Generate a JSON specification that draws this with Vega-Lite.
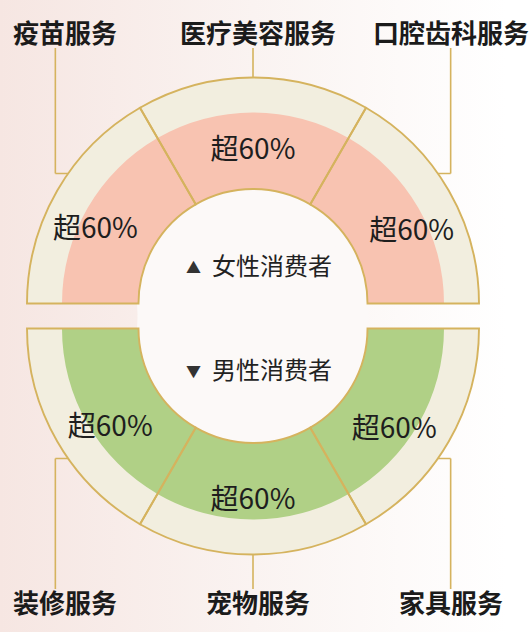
{
  "$schema": "https://vega.github.io/schema/vega-lite/v6.json",
  "width": 506,
  "height": 632,
  "autosize": {"type": "none"},
  "padding": {"left": 0, "top": 0, "right": 26, "bottom": 0},
  "background": "#ffffff",
  "config": {
    "view": {
      "stroke": null,
      "fill": {
        "gradient": "linear", "x1": 0, "y1": 0, "x2": 1, "y2": 0,
        "stops": [
          {"offset": 0, "color": "#f6e6e2"},
          {"offset": 0.5, "color": "#faf3f1"},
          {"offset": 1, "color": "#ffffff"}
        ]
      }
    },
    "font": "Noto Sans CJK SC"
  },
  "datasets": {
    "services": [
      {"seq": 1, "half": "女性", "col": "左", "service": "疫苗服务", "pct": 60, "share": "超60%"},
      {"seq": 2, "half": "女性", "col": "中", "service": "医疗美容服务", "pct": 60, "share": "超60%"},
      {"seq": 3, "half": "女性", "col": "右", "service": "口腔齿科服务", "pct": 60, "share": "超60%"},
      {"seq": 4, "half": "男性", "col": "右", "service": "家具服务", "pct": 60, "share": "超60%"},
      {"seq": 5, "half": "男性", "col": "中", "service": "宠物服务", "pct": 60, "share": "超60%"},
      {"seq": 6, "half": "男性", "col": "左", "service": "装修服务", "pct": 60, "share": "超60%"}
    ],
    "groups": [
      {"half": "女性", "arrow": "▲", "caption": "女性消费者"},
      {"half": "男性", "arrow": "▼", "caption": "男性消费者"}
    ]
  },
  "resolve": {"scale": {"x": "independent", "y": "independent"}},
  "layer": [
    {
      "data": {"name": "services"},
      "transform": [{"filter": {"field": "seq", "oneOf": [1, 3]}}],
      "mark": {"type": "arc", "theta": 3.14159, "theta2": 3.14159, "radius": 142.5, "radius2": 17, "filled": false, "stroke": "#d5b35e", "strokeWidth": 1.6},
      "encoding": {
        "x": {"field": "col", "type": "nominal", "scale": {"type": "point", "domain": ["左", "中", "右"], "padding": 0.28}, "axis": null},
        "y": {"field": "half", "type": "nominal", "scale": {"type": "point", "domain": ["女性", "男性"], "padding": 0.0544}, "axis": null}
      }
    },
    {
      "data": {"name": "services"},
      "transform": [{"filter": {"field": "seq", "oneOf": [4, 6]}}],
      "mark": {"type": "arc", "theta": 0, "theta2": 0, "radius": 142.5, "radius2": 12, "filled": false, "stroke": "#d5b35e", "strokeWidth": 1.6},
      "encoding": {
        "x": {"field": "col", "type": "nominal", "scale": {"type": "point", "domain": ["左", "中", "右"], "padding": 0.28}, "axis": null},
        "y": {"field": "half", "type": "nominal", "scale": {"type": "point", "domain": ["女性", "男性"], "padding": 0.0544}, "axis": null}
      }
    },
    {
      "data": {"name": "services"},
      "transform": [{"filter": {"field": "seq", "oneOf": [2]}}],
      "mark": {"type": "arc", "theta": 3.14159, "theta2": 3.14159, "radius": 48, "radius2": 17, "filled": false, "stroke": "#d5b35e", "strokeWidth": 1.6},
      "encoding": {
        "x": {"field": "col", "type": "nominal", "scale": {"type": "point", "domain": ["左", "中", "右"], "padding": 0.28}, "axis": null},
        "y": {"field": "half", "type": "nominal", "scale": {"type": "point", "domain": ["女性", "男性"], "padding": 0.0544}, "axis": null}
      }
    },
    {
      "data": {"name": "services"},
      "transform": [{"filter": {"field": "seq", "oneOf": [5]}}],
      "mark": {"type": "arc", "theta": 0, "theta2": 0, "radius": 49, "radius2": 12, "filled": false, "stroke": "#d5b35e", "strokeWidth": 1.6},
      "encoding": {
        "x": {"field": "col", "type": "nominal", "scale": {"type": "point", "domain": ["左", "中", "右"], "padding": 0.28}, "axis": null},
        "y": {"field": "half", "type": "nominal", "scale": {"type": "point", "domain": ["女性", "男性"], "padding": 0.0544}, "axis": null}
      }
    },
    {
      "data": {"name": "services"},
      "transform": [{"filter": {"field": "seq", "oneOf": [1, 6]}}],
      "mark": {"type": "arc", "theta": 1.5708, "theta2": 1.5708, "radius": 14, "radius2": 0, "filled": false, "stroke": "#d5b35e", "strokeWidth": 1.6},
      "encoding": {
        "x": {"field": "col", "type": "nominal", "scale": {"type": "point", "domain": ["左", "中", "右"], "padding": 0.28}, "axis": null},
        "y": {"field": "half", "type": "nominal", "scale": {"type": "point", "domain": ["女性", "男性"], "padding": 0.6088}, "axis": null}
      }
    },
    {
      "data": {"name": "services"},
      "transform": [{"filter": {"field": "seq", "oneOf": [3, 4]}}],
      "mark": {"type": "arc", "theta": 4.7124, "theta2": 4.7124, "radius": 14, "radius2": 0, "filled": false, "stroke": "#d5b35e", "strokeWidth": 1.6},
      "encoding": {
        "x": {"field": "col", "type": "nominal", "scale": {"type": "point", "domain": ["左", "中", "右"], "padding": 0.28}, "axis": null},
        "y": {"field": "half", "type": "nominal", "scale": {"type": "point", "domain": ["女性", "男性"], "padding": 0.6088}, "axis": null}
      }
    },
    {
      "data": {"name": "groups"},
      "mark": {"type": "arc", "radius": 116, "fill": "#fcf9f8"},
      "encoding": {
        "y": {"field": "half", "type": "nominal", "scale": {"type": "point", "domain": ["女性", "男性"], "range": [303.5, 328.5], "padding": 0}, "axis": null}
      }
    },
    {
      "data": {"name": "services"},
      "mark": {"type": "arc", "radius": 226, "radius2": 114.5, "fill": "#f2eedf"},
      "encoding": {
        "y": {"field": "half", "type": "nominal", "scale": {"type": "point", "domain": ["女性", "男性"], "range": [303.5, 328.5], "padding": 0}, "axis": null},
        "theta": {"field": "pct", "type": "quantitative", "stack": true, "scale": {"domain": [0, 360], "range": [-1.5708, 4.7124]}},
        "order": {"field": "seq", "type": "quantitative"}
      }
    },
    {
      "data": {"name": "services"},
      "mark": {"type": "arc", "radius": 191, "radius2": 114.5},
      "encoding": {
        "y": {"field": "half", "type": "nominal", "scale": {"type": "point", "domain": ["女性", "男性"], "range": [303.5, 328.5], "padding": 0}, "axis": null},
        "theta": {"field": "pct", "type": "quantitative", "stack": true, "scale": {"domain": [0, 360], "range": [-1.5708, 4.7124]}},
        "order": {"field": "seq", "type": "quantitative"},
        "color": {"field": "half", "type": "nominal", "scale": {"domain": ["女性", "男性"], "range": ["#f8c3b1", "#b0d086"]}, "legend": null}
      }
    },
    {
      "data": {"name": "services"},
      "mark": {"type": "arc", "radius": 226, "radius2": 114.5, "filled": false, "stroke": "#d5b35e", "strokeWidth": 1.9},
      "encoding": {
        "y": {"field": "half", "type": "nominal", "scale": {"type": "point", "domain": ["女性", "男性"], "range": [303.5, 328.5], "padding": 0}, "axis": null},
        "theta": {"field": "pct", "type": "quantitative", "stack": true, "scale": {"domain": [0, 360], "range": [-1.5708, 4.7124]}},
        "order": {"field": "seq", "type": "quantitative"}
      }
    },
    {
      "data": {"name": "services"},
      "mark": {"type": "text", "radius": 153, "fontSize": 28, "fill": "#1e1e1e", "font": "Noto Sans CJK SC", "baseline": "middle"},
      "encoding": {
        "y": {"field": "half", "type": "nominal", "scale": {"type": "point", "domain": ["女性", "男性"], "range": [303.5, 328.5], "padding": 0}, "axis": null},
        "theta": {"field": "pct", "type": "quantitative", "stack": true, "scale": {"domain": [0, 360], "range": [-1.5708, 4.7124]}},
        "order": {"field": "seq", "type": "quantitative"},
        "text": {"condition": {"test": "datum.seq == 2", "field": "share", "type": "nominal"}, "value": ""}
      }
    },
    {
      "data": {"name": "services"},
      "mark": {"type": "text", "radius": 172, "fontSize": 28, "fill": "#1e1e1e", "font": "Noto Sans CJK SC", "baseline": "middle"},
      "encoding": {
        "y": {"field": "half", "type": "nominal", "scale": {"type": "point", "domain": ["女性", "男性"], "range": [303.5, 328.5], "padding": 0}, "axis": null},
        "theta": {"field": "pct", "type": "quantitative", "stack": true, "scale": {"domain": [0, 360], "range": [-1.5708, 4.7124]}},
        "order": {"field": "seq", "type": "quantitative"},
        "text": {"condition": {"test": "datum.seq == 5", "field": "share", "type": "nominal"}, "value": ""}
      }
    },
    {
      "data": {"name": "services"},
      "mark": {"type": "text", "radius": 174, "thetaOffset": -0.085, "fontSize": 28, "fill": "#1e1e1e", "font": "Noto Sans CJK SC", "baseline": "middle"},
      "encoding": {
        "y": {"field": "half", "type": "nominal", "scale": {"type": "point", "domain": ["女性", "男性"], "range": [303.5, 328.5], "padding": 0}, "axis": null},
        "theta": {"field": "pct", "type": "quantitative", "stack": true, "scale": {"domain": [0, 360], "range": [-1.5708, 4.7124]}},
        "order": {"field": "seq", "type": "quantitative"},
        "text": {"condition": {"test": "datum.seq == 1 || datum.seq == 6", "field": "share", "type": "nominal"}, "value": ""}
      }
    },
    {
      "data": {"name": "services"},
      "mark": {"type": "text", "radius": 174, "thetaOffset": 0.1, "fontSize": 28, "fill": "#1e1e1e", "font": "Noto Sans CJK SC", "baseline": "middle"},
      "encoding": {
        "y": {"field": "half", "type": "nominal", "scale": {"type": "point", "domain": ["女性", "男性"], "range": [303.5, 328.5], "padding": 0}, "axis": null},
        "theta": {"field": "pct", "type": "quantitative", "stack": true, "scale": {"domain": [0, 360], "range": [-1.5708, 4.7124]}},
        "order": {"field": "seq", "type": "quantitative"},
        "text": {"condition": {"test": "datum.seq == 3 || datum.seq == 4", "field": "share", "type": "nominal"}, "value": ""}
      }
    },
    {
      "data": {"name": "groups"},
      "mark": {"type": "text", "fontSize": 15, "fill": "#333333", "font": "Noto Sans CJK SC", "baseline": "middle", "dx": -59.5},
      "encoding": {
        "y": {"field": "half", "type": "nominal", "scale": {"type": "point", "domain": ["女性", "男性"], "range": [268, 372], "padding": 0}, "axis": null},
        "text": {"field": "arrow", "type": "nominal"}
      }
    },
    {
      "data": {"name": "groups"},
      "mark": {"type": "text", "fontSize": 24, "fill": "#222222", "font": "Noto Sans CJK SC", "baseline": "middle", "dx": 19},
      "encoding": {
        "y": {"field": "half", "type": "nominal", "scale": {"type": "point", "domain": ["女性", "男性"], "range": [268, 372], "padding": 0}, "axis": null},
        "text": {"field": "caption", "type": "nominal"}
      }
    },
    {
      "data": {"name": "services"},
      "mark": {"type": "text", "fontSize": 26, "fontWeight": "bold", "fill": "#1b1b1b", "font": "Noto Sans CJK SC", "baseline": "middle", "dx": 5, "dy": 4},
      "encoding": {
        "x": {"field": "col", "type": "nominal", "scale": {"type": "point", "domain": ["左", "中", "右"], "padding": 0.311}, "axis": null},
        "y": {"field": "half", "type": "nominal", "scale": {"type": "point", "domain": ["女性", "男性"], "padding": 0.0544}, "axis": null},
        "text": {"field": "service", "type": "nominal"}
      }
    }
  ]
}
